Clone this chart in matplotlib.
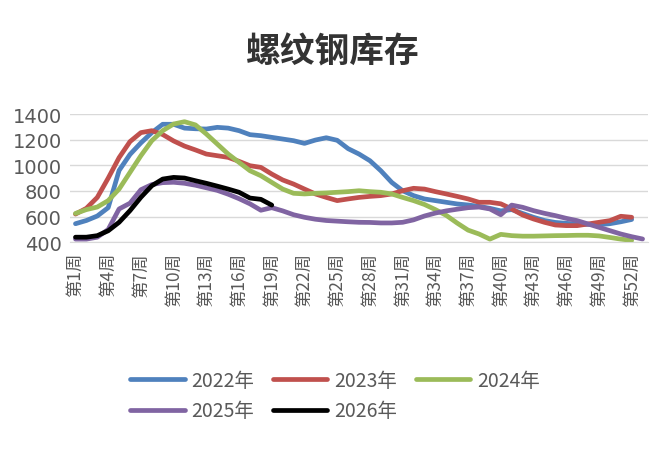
import numpy as np
import matplotlib
matplotlib.use("Agg")
import matplotlib.pyplot as plt

plt.rcParams['font.family'] = ['Noto Sans CJK SC', 'DejaVu Sans']

# 周度螺纹钢库存（万吨）
weeks = list(range(1, 54))
tick_weeks = list(range(1, 53, 3))
tick_labels = [f"第{w}周" for w in tick_weeks]

stock_2022 = [545, 570, 605, 670, 960, 1085, 1175, 1255, 1320, 1320, 1290, 1285,
              1283, 1296, 1290, 1270, 1239, 1231, 1218, 1205, 1192, 1171, 1197, 1215,
              1195, 1130, 1088, 1036, 958, 867, 802, 764, 738, 725, 712, 699, 691, 680,
              665, 645, 655, 625, 595, 570, 555, 548, 542, 540, 538, 545, 560, 578]
stock_2023 = [620, 665, 750, 900, 1060, 1185, 1255, 1270, 1240, 1190, 1150, 1120,
              1088, 1075, 1062, 1031, 997, 984, 932, 886, 854, 815, 777, 750,
              725, 738, 750, 758, 764, 777, 802, 821, 815, 795, 777, 758, 738, 712,
              712, 700, 660, 613, 582, 556, 535, 530, 530, 543, 556, 569, 603, 595]
stock_2024 = [625, 655, 675, 725, 815, 945, 1075, 1192, 1270, 1322, 1340, 1315,
              1244, 1166, 1088, 1023, 958, 919, 867, 815, 782, 777, 782, 785,
              790, 795, 802, 795, 790, 777, 750, 725, 695, 655, 610, 550, 495, 465,
              425, 462, 452, 448, 448, 450, 452, 453, 455, 455, 450, 438, 425, 415]
stock_2025 = [425, 425, 440, 500, 660, 705, 810, 850, 865, 868, 860, 845,
              825, 805, 775, 740, 700, 650, 670, 645, 615, 595, 580, 570,
              565, 560, 556, 555, 551, 551, 556, 575, 605, 628, 645, 658, 670, 675,
              660, 615, 690, 673, 647, 626, 608, 587, 569, 543, 517, 491, 465, 444, 426]
stock_2026 = [440, 440, 452, 490, 556, 647, 751, 841, 893, 906, 901, 880,
              860, 838, 815, 790, 745, 735, 690]

series = [
    ("2022年", stock_2022, "#4F81BD"),
    ("2023年", stock_2023, "#C0504D"),
    ("2024年", stock_2024, "#9BBB59"),
    ("2025年", stock_2025, "#8064A2"),
    ("2026年", stock_2026, "#000000"),
]

fig = plt.figure(figsize=(6.7, 4.56), dpi=100)
ax = fig.add_axes([0.1045, 0.4664, 0.8627, 0.2814])

handles = {}
for name, vals, color in series:
    y = np.full(len(weeks), np.nan)
    y[:len(vals)] = vals
    line, = ax.plot(weeks, y, color=color, lw=3.4, label=name,
                    solid_capstyle='round', solid_joinstyle='round', clip_on=False)
    handles[name] = line

ax.set_xlim(0.5, 53.5)
ax.set_ylim(400, 1400)
ax.set_yticks(range(400, 1401, 200))
ax.set_xticks(tick_weeks)
ax.set_xticklabels(tick_labels, rotation=90, fontsize=12.5, color="#595959")
ax.tick_params(axis='y', labelsize=14, colors="#595959", length=0, pad=6)
ax.tick_params(axis='x', length=0, pad=7)
for lbl in ax.get_yticklabels():
    lbl.set_family('DejaVu Sans')

ax.grid(axis='y', color="#D9D9D9", lw=1)
ax.set_axisbelow(True)
for side in ['top', 'right', 'left']:
    ax.spines[side].set_visible(False)
ax.spines['bottom'].set_color("#D9D9D9")

fig.text(0.497, 0.886, "螺纹钢库存", ha='center', va='center',
         fontsize=25, fontweight='bold', color="#333333")

# 图例按行排列：ncol=3 时按列填充，所以重新排序
order = ["2022年", "2025年", "2023年", "2026年", "2024年"]
ax.legend([handles[n] for n in order], order, loc='center',
          bbox_to_anchor=(0.5, 0.1305), bbox_transform=fig.transFigure,
          ncol=3, frameon=False, fontsize=14, handlelength=2.8,
          handletextpad=0.35, columnspacing=0.95, labelspacing=0.5,
          borderpad=0, labelcolor="#595959")

fig.savefig("out.png", dpi=100)
